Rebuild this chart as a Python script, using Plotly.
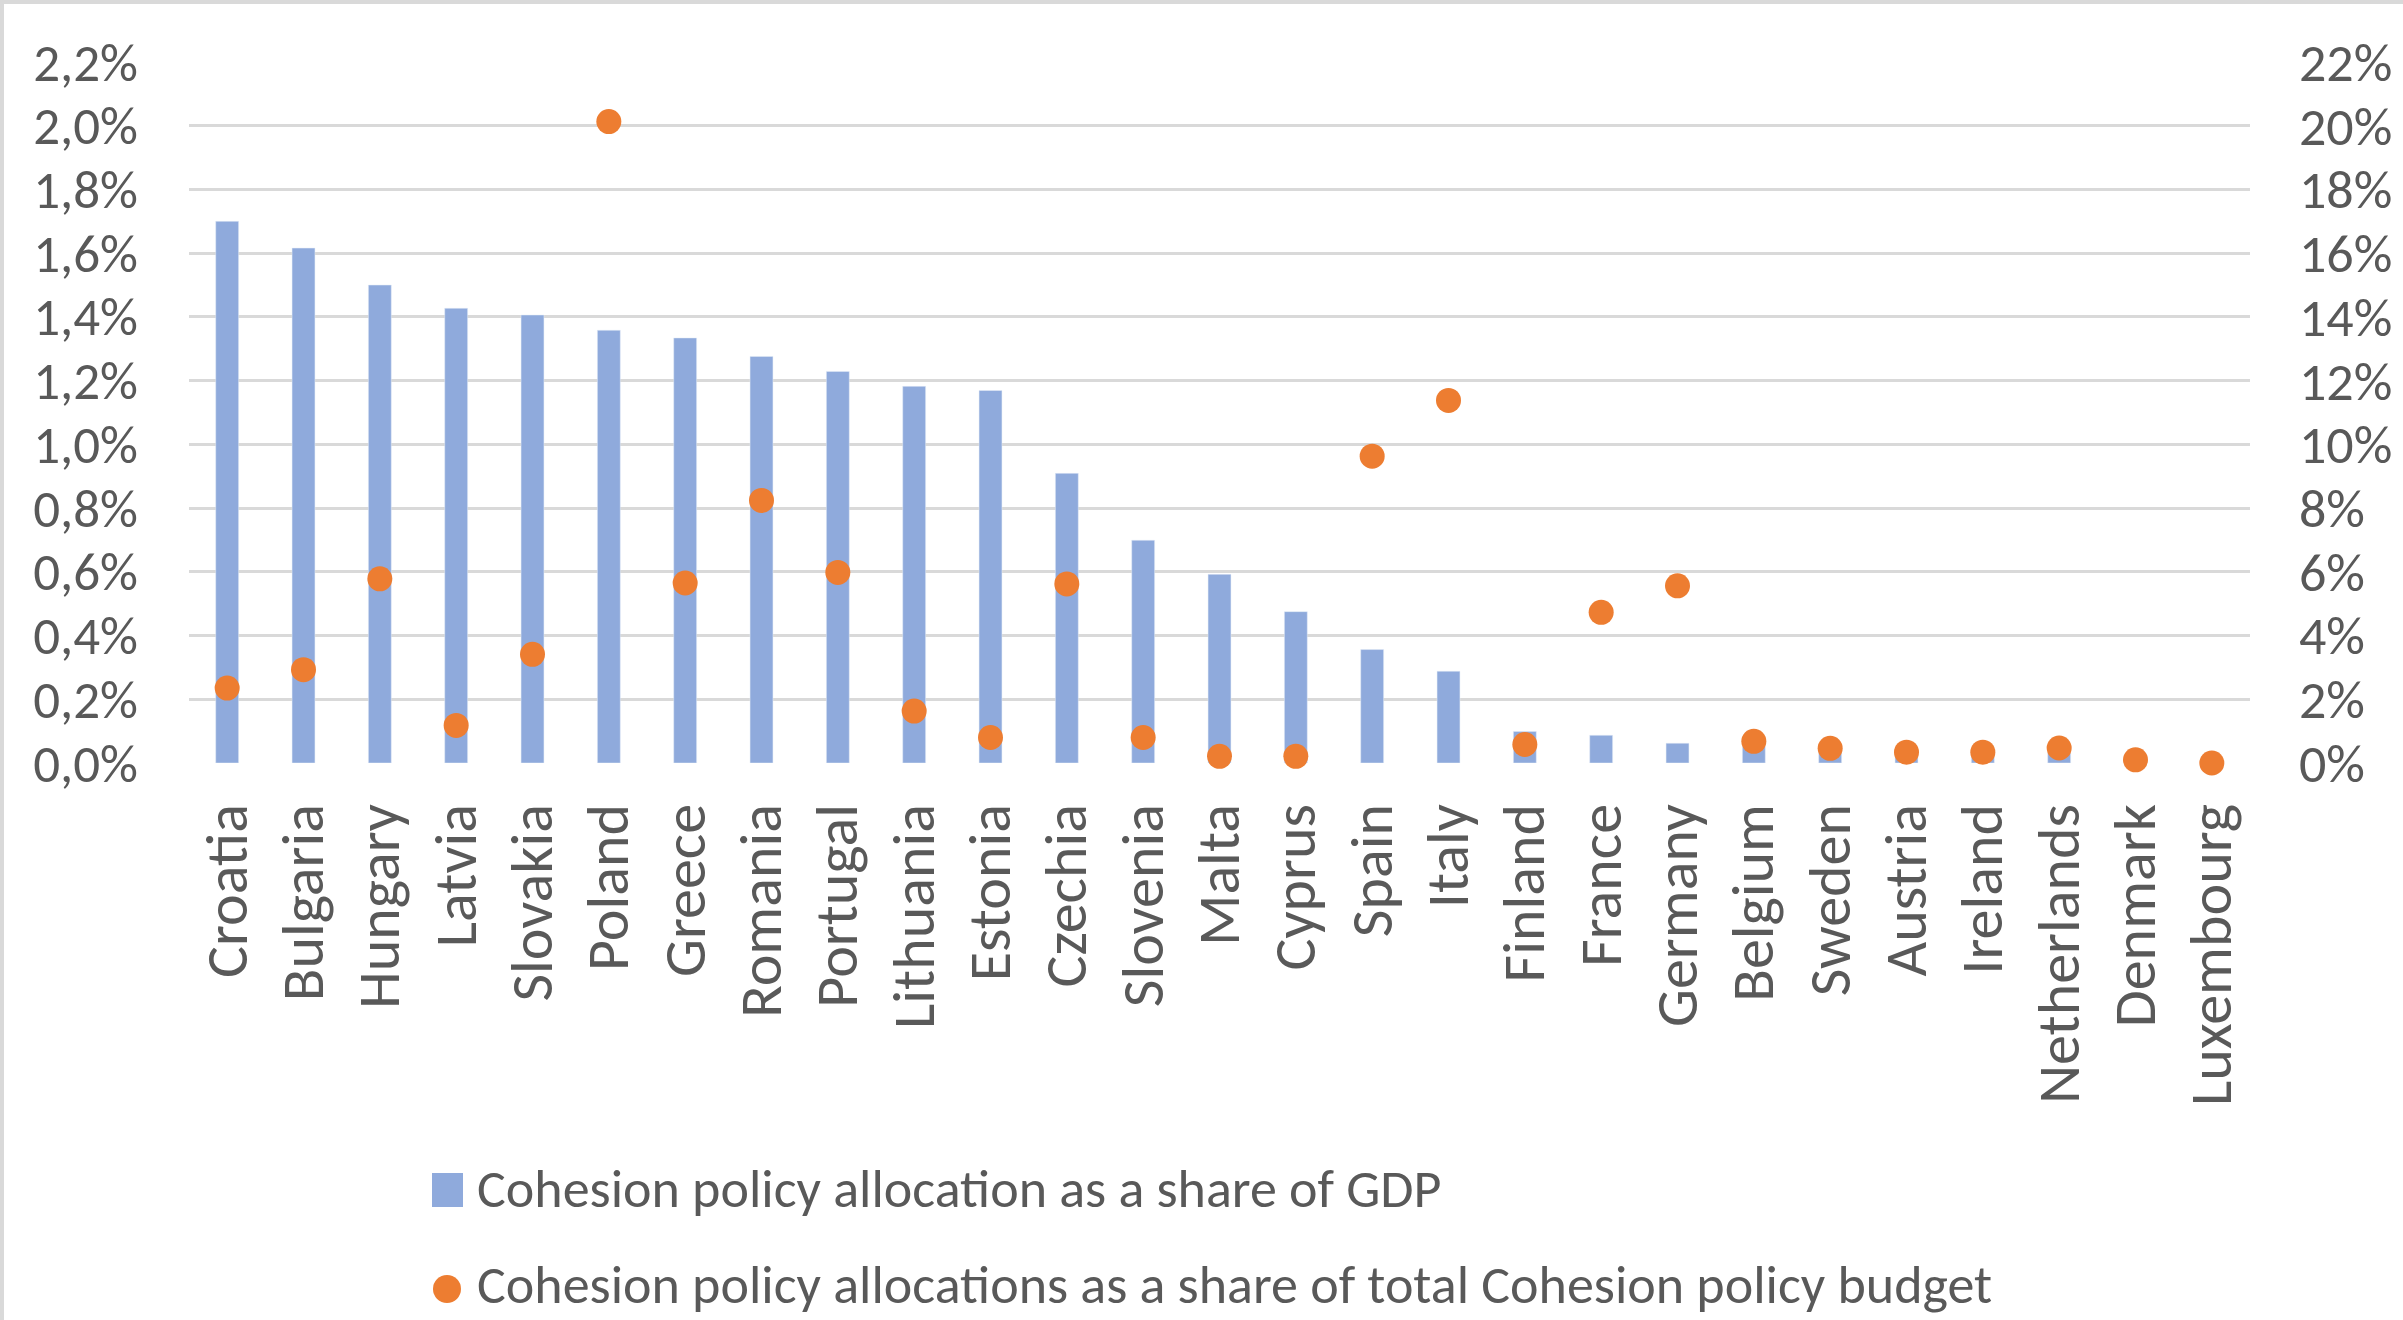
import plotly.graph_objects as go

countries = ["Croatia", "Bulgaria", "Hungary", "Latvia", "Slovakia", "Poland", "Greece",
             "Romania", "Portugal", "Lithuania", "Estonia", "Czechia", "Slovenia", "Malta",
             "Cyprus", "Spain", "Italy", "Finland", "France", "Germany", "Belgium", "Sweden",
             "Austria", "Ireland", "Netherlands", "Denmark", "Luxembourg"]

# Cohesion policy allocation as a share of GDP (%), left axis
share_of_gdp = [1.70, 1.616, 1.50, 1.427, 1.406, 1.358, 1.334,
                1.276, 1.229, 1.182, 1.169, 0.909, 0.699, 0.592,
                0.475, 0.356, 0.288, 0.099, 0.087, 0.062, 0.052, 0.032,
                0.022, 0.020, 0.032, 0.010, 0.005]

# Cohesion policy allocations as a share of total Cohesion policy budget (%), right axis
share_of_budget = [2.35, 2.93, 5.78, 1.18, 3.41, 20.13, 5.65,
                   8.24, 5.98, 1.63, 0.80, 5.62, 0.80, 0.21,
                   0.21, 9.63, 11.38, 0.58, 4.73, 5.56, 0.68, 0.46,
                   0.34, 0.34, 0.47, 0.10, 0.0]

left_tick_vals = [0.0, 0.2, 0.4, 0.6, 0.8, 1.0, 1.2, 1.4, 1.6, 1.8, 2.0, 2.2]
left_tick_text = ["0,0%", "0,2%", "0,4%", "0,6%", "0,8%", "1,0%", "1,2%",
                  "1,4%", "1,6%", "1,8%", "2,0%", "2,2%"]
right_tick_vals = [0, 2, 4, 6, 8, 10, 12, 14, 16, 18, 20, 22]
right_tick_text = ["0%", "2%", "4%", "6%", "8%", "10%", "12%",
                   "14%", "16%", "18%", "20%", "22%"]

legend_labels = ["Cohesion policy allocation as a share of GDP",
                 "Cohesion policy allocations as a share of total Cohesion policy budget"]

W, H = 2403, 1320
ML, MR, MT, MB = 189, 153, 62, 557
PW, PH = W - ML - MR, H - MT - MB
FONT = "Calibri, Carlito, Lato, sans-serif"
TXT = "#595959"
GRID = "#D9D9D9"
BAR_C = "#8FAADC"
DOT_C = "#ED7D31"


def xp(px):
    return (px - ML) / PW


def yp(py):
    return (H - MB - py) / PH


fig = go.Figure()
fig.add_trace(go.Bar(x=countries, y=share_of_gdp, marker_color=BAR_C,
                     name=legend_labels[0], yaxis="y", showlegend=False))
fig.add_trace(go.Scatter(x=countries, y=share_of_budget, mode="markers",
                         marker=dict(color=DOT_C, size=25), cliponaxis=False,
                         name=legend_labels[1], yaxis="y2", showlegend=False))

shapes = [
    dict(type="line", xref="paper", yref="paper", x0=xp(0), x1=xp(W), y0=yp(2), y1=yp(2),
         line=dict(color=GRID, width=4)),
    dict(type="line", xref="paper", yref="paper", x0=xp(2), x1=xp(2), y0=yp(0), y1=yp(H),
         line=dict(color=GRID, width=4)),
    dict(type="rect", xref="paper", yref="paper", x0=xp(432), x1=xp(463), y0=yp(1207), y1=yp(1173),
         fillcolor=BAR_C, line=dict(width=0)),
    dict(type="circle", xref="paper", yref="paper", x0=xp(433), x1=xp(461), y0=yp(1303), y1=yp(1275),
         fillcolor=DOT_C, line=dict(width=0)),
]
annotations = [
    dict(xref="paper", yref="paper", x=xp(475), y=yp(1189), text=legend_labels[0],
         showarrow=False, xanchor="left", yanchor="middle", font=dict(size=54, color=TXT, family=FONT)),
    dict(xref="paper", yref="paper", x=xp(475), y=yp(1285), text=legend_labels[1],
         showarrow=False, xanchor="left", yanchor="middle", font=dict(size=54, color=TXT, family=FONT)),
]

fig.update_layout(
    width=W, height=H,
    margin=dict(l=ML, r=MR, t=MT, b=MB),
    paper_bgcolor="white", plot_bgcolor="white",
    bargap=0.7,
    font=dict(family=FONT, color=TXT),
    xaxis=dict(type="category", range=[-0.5, len(countries) - 0.5], tickangle=-90,
               tickfont=dict(size=60, color=TXT, family=FONT), showgrid=False, showline=False,
               zeroline=False, ticks="", ticklabelstandoff=28),
    yaxis=dict(range=[0, 2.2], tickvals=left_tick_vals, ticktext=left_tick_text,
               tickfont=dict(size=53, color=TXT, family=FONT), showgrid=True, gridcolor=GRID,
               gridwidth=3, zeroline=False, showline=False, ticks="", ticklabelstandoff=50),
    yaxis2=dict(range=[0, 22], tickvals=right_tick_vals, ticktext=right_tick_text,
                overlaying="y", side="right", showgrid=False, zeroline=False, showline=False,
                tickfont=dict(size=54, color=TXT, family=FONT), ticks="", ticklabelstandoff=48),
    shapes=shapes,
    annotations=annotations,
    showlegend=False,
)

fig.write_html("out.html")
